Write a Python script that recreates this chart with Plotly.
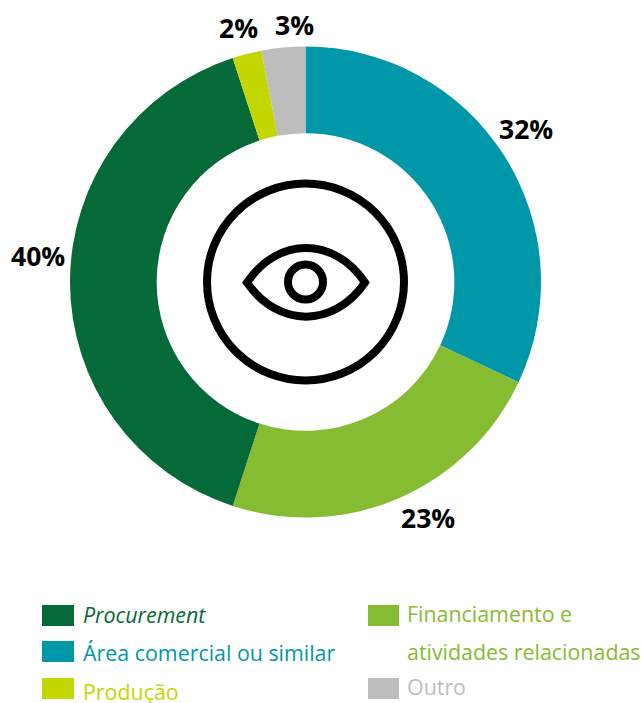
import plotly.graph_objects as go

W = 641
H = 703

# data
categories = ["Procurement", "Área comercial ou similar", "Produção", "Financiamento e<br>atividades relacionadas", "Outro"]
values = [40, 32, 2, 23, 3]
colors = ["#066a38", "#0098a9", "#c4d600", "#86bc31", "#bdbdbd"]

# clockwise order starting at 12 o'clock
pie_order = [1, 3, 0, 2, 4]

# label centres, same order as categories
label_x = [38, 526, 238, 428, 294]
label_y = [256, 129, 28, 518, 25]

# legend rows
swatch_x = [42, 42, 42, 368, 368]
swatch_w = [32, 32, 32, 31, 31]
swatch_y = [605, 641, 678, 605, 678]
text_x = [83, 83, 83, 407, 407]
text_y = [614, 652, 691, 613, 686]
line_gap = 38

FONT = "Open Sans"
INK = "#000000"


def px(x):
    return x / W


def py(y):
    return 1 - y / H


fig = go.Figure()
fig.add_trace(go.Pie(
    labels=[categories[i] for i in pie_order],
    values=[values[i] for i in pie_order],
    marker=dict(colors=[colors[i] for i in pie_order], line=dict(width=0)),
    hole=0.632,
    sort=False,
    direction="clockwise",
    rotation=0,
    textinfo="none",
    showlegend=False,
    domain=dict(x=[px(70), px(541)], y=[py(517.5), py(46.5)]),
))

annotations = []
shapes = []

# percent labels
for i in range(len(values)):
    annotations.append(dict(
        x=px(label_x[i]), y=py(label_y[i]), xref="paper", yref="paper",
        text="<b>%d%%</b>" % values[i], showarrow=False,
        xanchor="center", yanchor="middle",
        font=dict(family=FONT, size=26.5, color=INK),
    ))

# legend
for i in range(len(categories)):
    shapes.append(dict(
        type="rect", xref="paper", yref="paper",
        x0=px(swatch_x[i]), x1=px(swatch_x[i] + swatch_w[i]),
        y0=py(swatch_y[i]), y1=py(swatch_y[i] + 21),
        fillcolor=colors[i], line=dict(width=0),
    ))
    for n, line in enumerate(categories[i].split("<br>")):
        if line == "Procurement":
            line = "<i>" + line + "</i>"
        annotations.append(dict(
            x=px(text_x[i]), y=py(text_y[i] + n * line_gap), xref="paper", yref="paper",
            text=line, showarrow=False, xanchor="left", yanchor="middle",
            xshift=-2,
            font=dict(family=FONT, size=21.4, color=colors[i]),
        ))


# eye icon
def ring(cx, cy, r, width):
    return dict(
        type="circle", xref="paper", yref="paper",
        x0=px(cx - r), x1=px(cx + r), y0=py(cy - r), y1=py(cy + r),
        line=dict(color=INK, width=width), fillcolor="rgba(0,0,0,0)",
    )


shapes.append(ring(305.5, 282, 98.5, 8))
shapes.append(ring(305.5, 282, 17.5, 8))

eye = [(247, 282.5), (278, 236.5), (334, 236.5), (365, 282.5), (334, 328), (278, 328), (247, 282.5)]
eye = [(px(x), py(y)) for x, y in eye]
eye_path = "M %f %f C %f %f %f %f %f %f C %f %f %f %f %f %f Z" % tuple(v for p in eye for v in p)
shapes.append(dict(
    type="path", xref="paper", yref="paper", path=eye_path,
    line=dict(color=INK, width=8), fillcolor="rgba(0,0,0,0)",
))

fig.update_layout(
    width=W,
    height=H,
    margin=dict(l=0, r=0, t=0, b=0),
    paper_bgcolor="white",
    plot_bgcolor="white",
    font=dict(family=FONT),
    annotations=annotations,
    shapes=shapes,
)

# the page's default body margin would push the chart 8px in
fig.write_html(
    "out.html",
    config=dict(displayModeBar=False),
    post_script="document.body.style.margin='0';document.body.style.overflow='hidden';",
)
